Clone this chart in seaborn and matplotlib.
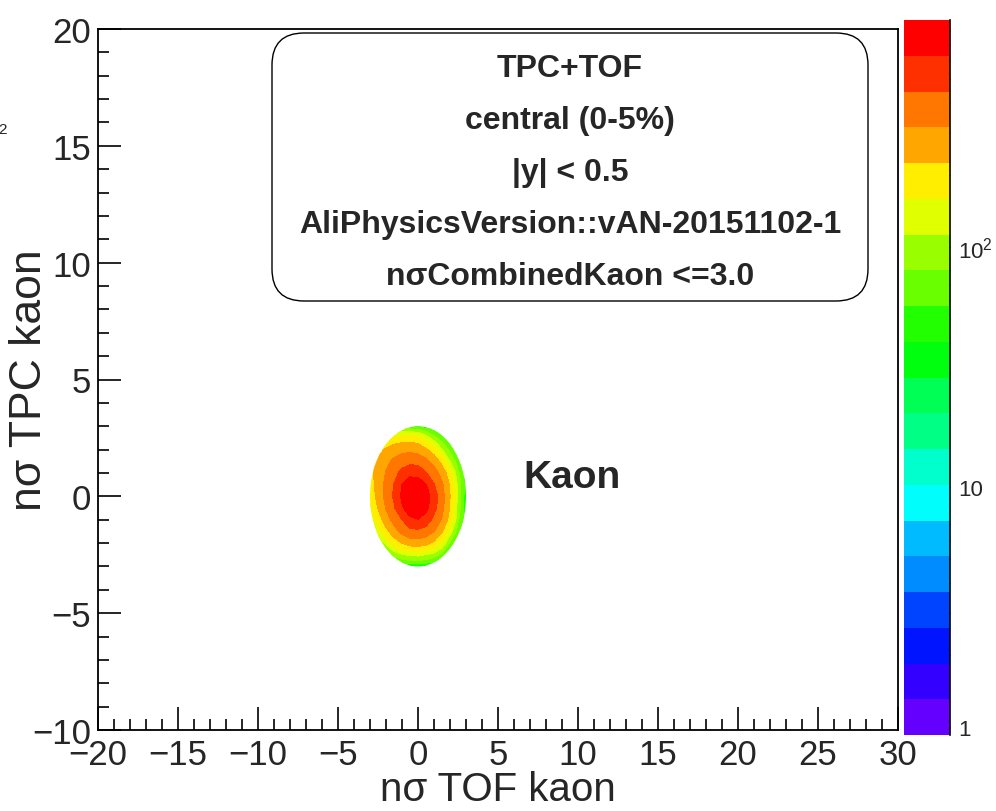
import colorsys

import numpy as np
import matplotlib
matplotlib.use("Agg")
import matplotlib.pyplot as plt
from matplotlib.colors import LogNorm, ListedColormap
from matplotlib.patches import Circle, FancyBboxPatch
from matplotlib.transforms import IdentityTransform
from matplotlib.ticker import MultipleLocator, NullFormatter
import seaborn as sns

# ---------------------------------------------------------------- data
# Kaon candidates per cell, sampled on a 0.5-sigma grid (rows: TPC, top to bottom)
tof_nodes = [-3.0, -2.5, -2.0, -1.5, -1.0, -0.5, 0.0, 0.5, 1.0, 1.5, 2.0, 2.5, 3.0]
tpc_nodes = [3.0, 2.5, 2.0, 1.5, 1.0, 0.5, 0.0, -0.5, -1.0, -1.5, -2.0, -2.5, -3.0]
counts = [
    [34, 40, 46, 50, 50, 48, 45, 40, 36, 32, 28, 24, 20],
    [76, 100, 132, 165, 182, 185, 175, 130, 90, 62, 46, 38, 30],
    [98, 190, 235, 270, 285, 290, 273, 235, 180, 115, 70, 50, 38],
    [190, 240, 290, 335, 372, 392, 379, 340, 275, 195, 110, 65, 45],
    [200, 255, 320, 395, 488, 575, 558, 452, 365, 275, 175, 85, 50],
    [190, 250, 343, 447, 627, 723, 731, 634, 449, 330, 215, 100, 45],
    [175, 247, 346, 468, 660, 803, 841, 721, 525, 352, 225, 100, 42],
    [150, 225, 320, 422, 603, 737, 785, 680, 492, 342, 218, 95, 42],
    [111, 183, 264, 353, 445, 585, 616, 538, 400, 305, 190, 85, 40],
    [85, 130, 201, 272, 344, 392, 406, 375, 318, 230, 130, 65, 36],
    [61, 82, 121, 178, 225, 257, 266, 246, 205, 145, 75, 48, 32],
    [41, 53, 69, 88, 108, 120, 122, 112, 95, 70, 50, 38, 28],
    [22, 25, 28, 31, 34, 36, 36, 35, 32, 29, 25, 22, 19],
]
nsigma_cut = 3.0            # combined n-sigma selection
z_min, z_max = 0.93, 880.0  # colour axis range
n_contours = 20

x_range = (-20, 30)
y_range = (-10, 20)
z_ticks = [1, 10, 100]
z_ticklabels = ["1", "10", r"$\mathregular{10^{2}}$"]

x_title = "nσ TOF kaon"
y_title = "nσ TPC kaon"
species_label = "Kaon"
pave_lines = [
    "TPC+TOF",
    "central (0-5%)",
    "|y| < 0.5",
    "AliPhysicsVersion::vAN-20151102-1",
    "nσCombinedKaon <=3.0",
]

# ---------------------------------------------------------------- style
sns.set_style("ticks")
plt.rcParams["font.family"] = ["Liberation Sans", "DejaVu Sans"]
plt.rcParams["axes.unicode_minus"] = True
BOLD = ["Liberation Sans", "DejaVu Sans"]

# ROOT "pretty" palette: HLS hues from violet (280) to red, 50 entries,
# picked for 20 contour levels the way THistPainter does
hues = []
for k in range(n_contours):
    idx = int((k + 0.99) * 50 / n_contours)
    hues.append(280.0 - (idx + 1) * 5.6 if idx < 49 else 0.0)
band_colors = [colorsys.hls_to_rgb(h / 360.0, 0.5, 1.0) for h in hues]
cmap = ListedColormap(sns.color_palette(band_colors, n_colors=n_contours))

# ---------------------------------------------------------------- layout
W, H = 996, 812
fig = plt.figure(figsize=(W / 100, H / 100), dpi=100)
fig.patch.set_facecolor("white")


def fx(px):
    return px / W


def fy(py):
    return 1.0 - py / H


ax = fig.add_axes([fx(98), fy(731), fx(898) - fx(98), fy(30) - fy(731)])
cax = fig.add_axes([fx(904), fy(736), fx(950) - fx(904), fy(21) - fy(736)])

# ---------------------------------------------------------------- 2D map
X, Y = np.meshgrid(tof_nodes, tpc_nodes)
Z = np.array(counts, dtype=float)
levels = np.logspace(np.log10(z_min), np.log10(z_max), n_contours + 1)
norm = LogNorm(vmin=z_min, vmax=z_max)
cs = ax.contourf(X, Y, Z, levels=levels, cmap=cmap, norm=norm, antialiased=False)
cut = Circle((0.0, 0.0), nsigma_cut, transform=ax.transData)
cs.set_clip_path(cut)

ax.set_xlim(*x_range)
ax.set_ylim(*y_range)
for axis in (ax.xaxis, ax.yaxis):
    axis.set_major_locator(MultipleLocator(5))
    axis.set_minor_locator(MultipleLocator(1))
ax.tick_params(which="both", direction="in", top=False, right=False,
               width=1.2, color="black")
ax.tick_params(which="major", length=16.5, labelsize=25)
ax.tick_params(axis="x", which="major", pad=6)
ax.tick_params(axis="y", which="major", pad=5)
ax.tick_params(which="minor", length=8)
for sp in ax.spines.values():
    sp.set_linewidth(1.3)
    sp.set_color("black")

ax.set_xlabel(x_title, fontsize=29)
ax.xaxis.set_label_coords(0.5, -0.057)
ax.set_ylabel(y_title, fontsize=32)
ax.yaxis.set_label_coords(-0.060, 0.5)

ax.text(6.56, 0.40, species_label, ha="left", va="baseline",
        fontsize=28, fontweight="bold", family=BOLD)

# ---------------------------------------------------------------- colour bar
cbar = fig.colorbar(cs, cax=cax, spacing="proportional")
cbar.outline.set_visible(False)
cax.set_ylim(z_min, z_max)
cbar.set_ticks(z_ticks, labels=z_ticklabels)
cbar.minorticks_on()
cax.yaxis.set_minor_formatter(NullFormatter())
cax.tick_params(which="both", direction="in", right=True, left=False,
                labelright=True, labelleft=False, width=1.0, color="black")
cax.tick_params(which="major", length=17, labelsize=16, pad=6)
cax.tick_params(which="minor", length=9)
cax.spines["right"].set_visible(True)
cax.spines["right"].set_linewidth(1.2)
cax.spines["right"].set_color("black")

# ---------------------------------------------------------------- info pave
pave = FancyBboxPatch((272, H - 302), 596, 268,
                      boxstyle="round,pad=0,rounding_size=32",
                      transform=IdentityTransform(), facecolor="white",
                      edgecolor="black", linewidth=1.0, zorder=5)
fig.add_artist(pave)
baselines = [77, 129, 181, 233, 285]
for line, b in zip(pave_lines, baselines):
    fig.text(fx(570), fy(b), line, ha="center", va="baseline", fontsize=23,
             fontweight="bold", family=BOLD, zorder=6)

# exponent of a neighbouring pad's label that spills in at the left edge
fig.text(fx(-2), fy(130), "2", ha="left", va="center", fontsize=11)

fig.savefig("out.png", dpi=100)
